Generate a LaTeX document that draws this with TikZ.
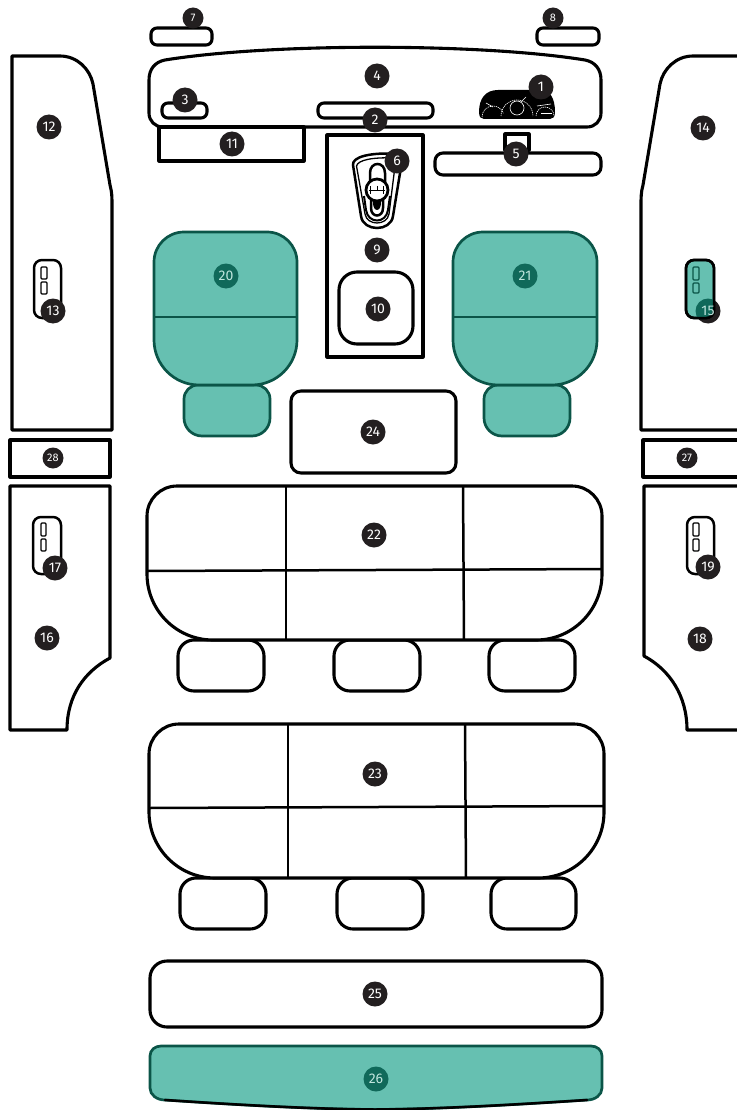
\documentclass[tikz,border=0pt]{standalone}
\usepackage{fontspec}
\setmainfont{Fira Sans}
\usetikzlibrary{scopes}
\definecolor{seatFill}{HTML}{66C0B1}
\definecolor{seatLine}{HTML}{0B5548}
\definecolor{badgeTeal}{HTML}{10695A}
\definecolor{badgeDark}{HTML}{231F20}
\definecolor{badgeText}{HTML}{BFE5DD}
\tikzset{
	part/.style={draw=black,line width=3.1pt,fill=white,line join=round},
	thin part/.style={draw=black,line width=2.5pt},
	seat/.style={draw=seatLine,line width=2.7pt,fill=seatFill,line join=round},
	badge/.style={shape=circle,fill=badgeDark,text=white,inner sep=0pt,minimum size=25pt,font=\fontsize{14}{14}\selectfont},
	small badge/.style={badge,minimum size=21pt,font=\fontsize{11}{11}\selectfont},
	teal badge/.style={badge,fill=badgeTeal,text=badgeText},
	gauge/.style={draw=white,line width=0.6pt}
}
% style, left, top, right, bottom, top radius, bottom radius
\newcommand{\cushion}[7]{\draw[#1] (#2,#3+#6) .. controls (#2,#3+0.448*#6) and (#2+0.448*#6,#3) .. (#2+#6,#3) -- (#4-#6,#3) .. controls (#4-0.448*#6,#3) and (#4,#3+0.448*#6) .. (#4,#3+#6) -- (#4,#5-#7) .. controls (#4,#5-0.448*#7) and (#4-0.448*#7,#5) .. (#4-#7,#5) -- (#2+#7,#5) .. controls (#2+0.448*#7,#5) and (#2,#5-0.448*#7) .. (#2,#5-#7) -- cycle;}
\begin{document}
\begin{tikzpicture}[x=1pt,y=-1pt]
	\useasboundingbox (0,0) rectangle (736,1110);
	%% Dashboard
	\draw[part] (149,113) -- (149,80) .. controls (149,69) and (155,62) .. (165,60) .. controls (270,43) and (480,43) .. (585,60) .. controls (595,62) and (601,69) .. (601,80) -- (601,113) .. controls (601,121) and (595,127) .. (587,127) -- (163,127) .. controls (155,127) and (149,121) .. (149,113) -- cycle;
	\draw[part,rounded corners=6pt] (151,28) rectangle (212,45);
	\draw[part,rounded corners=6pt] (537,28) rectangle (599,45);
	\draw[part,rounded corners=6pt] (162,103) rectangle (207,118);
	\draw[part,rounded corners=6pt] (318,103) rectangle (433,118);
	\draw[part] (159,127) rectangle (304,161);
	\draw[part] (505,134) rectangle (529,150);
	\draw[part,rounded corners=8pt] (435,153) rectangle (601,175);
	%% Instrument cluster
	\fill[black] (479,112) .. controls (479,98) and (486,90) .. (498,90) -- (540,90) .. controls (550,90) and (555,98) .. (555,112) .. controls (555,117) and (553,119) .. (550,119) -- (484,119) .. controls (481,119) and (479,117) .. (479,112) -- cycle;
	\draw[gauge,dash pattern=on 1.2pt off 0.8pt] (482,117) arc[start angle=180,end angle=340,radius=11];
	\draw[gauge] (493,107) -- (486,103);
	\draw[gauge,dash pattern=on 1.2pt off 0.8pt] (501,116) arc[start angle=180,end angle=360,radius=16];
	\draw[gauge] (517,108) circle (7);
	\draw[gauge] (521,102) -- (526,97);
	\draw[gauge,dash pattern=on 1.2pt off 0.8pt] (536,116) arc[start angle=180,end angle=360,radius=9];
	\draw[gauge] (537,106) -- (551,104);
	\draw[gauge] (541,113) -- (552,113);
	%% Console
	\draw[part] (327,135) rectangle (423,357);
	\draw[part,rounded corners=18pt] (339,272) rectangle (413,344);
	% Gear lever
	\draw[thin part,fill=white] (353,165) .. controls (352,157) and (370,152) .. (398,154) .. controls (402,156) and (402,160) .. (401,167) -- (393,216) .. controls (391,232) and (363,232) .. (361,216) -- cycle;
	\draw[black,line width=1.3pt] (356.5,166) .. controls (358,160) and (372,157) .. (396,158) -- (389,214) .. controls (387,226) and (367,226) .. (365,214) -- cycle;
	\draw[thin part,fill=white] (370,190) -- (370,173) .. controls (370,161) and (385,161) .. (385,173) -- (385,190);
	\draw[black,line width=2pt] (364,196) -- (366,210) .. controls (368,224) and (386,224) .. (388,210) -- (390,196);
	\draw[thin part,fill=white] (371,195) -- (371,208) .. controls (371,218) and (383,218) .. (383,208) -- (383,195);
	\fill[black] (377,203) ellipse (4 and 7);
	\path (377,190) node(gearKnob)[draw=black,line width=2.8pt,fill=white,shape=circle,inner sep=0pt,minimum size=22pt] {};
	\draw[black,line width=0.9pt] (369,190) -- (385,190) (370.5,186) -- (370.5,194) (377,186) -- (377,190) (383,186) -- (383,194);
	%% Doors
	\draw[part] (12,430) -- (12,56) -- (60,56) .. controls (77,56) and (90,69) .. (93,84) -- (110,185) .. controls (112,192) and (112,198) .. (112,205) -- (112,430) -- cycle;
	\draw[part] (742,430) -- (641,430) -- (641,205) .. controls (641,198) and (641,192) .. (643,185) -- (660,84) .. controls (663,69) and (676,56) .. (693,56) -- (742,56);
	\draw[part] (10,440) rectangle (110,477);
	\draw[part] (643,440) rectangle (742,477);
	\draw[part] (10,730) -- (10,486) -- (110,486) -- (110,658) .. controls (84,672) and (67,696) .. (67,730) -- cycle;
	\draw[part] (742,486) -- (644,486) -- (644,656) .. controls (670,670) and (687,696) .. (687,730) -- (742,730);
	% Window switches
	\draw[thin part,fill=white,rounded corners=8pt] (34,260) rectangle (61,318);
	\draw[black,line width=1.2pt,rounded corners=1pt] (41,267) rectangle (47,279) (41,282) rectangle (47,294);
	\draw[thin part,fill=white,rounded corners=8pt] (33,517) rectangle (61,574);
	\draw[black,line width=1.2pt,rounded corners=1pt] (41,523) rectangle (46,536) (41,539) rectangle (46,551);
	\draw[thin part,fill=white,rounded corners=8pt] (687,517) rectangle (714,574);
	\draw[black,line width=1.2pt,rounded corners=1pt] (693,523) rectangle (699,536) (693,539) rectangle (699,551);
	%% Front seats
	\cushion{seat}{184}{385}{270}{436}{14}{18}
	\cushion{seat}{154}{232}{297}{385}{30}{45}
	\draw[seat] (154,317) -- (297,317);
	\cushion{seat}{484}{385}{570}{436}{14}{18}
	\cushion{seat}{453}{232}{597}{385}{30}{45}
	\draw[seat] (453,317) -- (597,317);
	\draw[part,rounded corners=10pt] (291,391) rectangle (456,473);
	%% Second row
	\cushion{part}{178}{640}{264}{691}{16}{16}
	\cushion{part}{334}{640}{420}{691}{16}{16}
	\cushion{part}{489}{640}{575}{691}{16}{16}
	\cushion{part}{147}{486}{602}{640}{30}{66}
	\draw[thin part] (147,571) -- (602,569);
	\draw[thin part] (286,486) -- (286,640);
	\draw[thin part] (463,486) -- (464,640);
	%% Third row
	\cushion{part}{180}{878}{266}{929}{16}{16}
	\cushion{part}{337}{878}{423}{929}{16}{16}
	\cushion{part}{491}{878}{576}{929}{16}{16}
	\cushion{part}{149}{724}{604}{878}{30}{66}
	\draw[thin part] (149,808) -- (604,806);
	\draw[thin part] (288,724) -- (288,878);
	\draw[thin part] (465,724) -- (466,878);
	%% Boot
	\draw[part,rounded corners=17pt] (150,961) rectangle (602,1027);
	\draw[seat] (150,1088) -- (150,1056) .. controls (150,1050) and (155,1046) .. (161,1046) -- (591,1046) .. controls (597,1046) and (602,1050) .. (602,1056) -- (602,1088) .. controls (602,1095) and (595,1100) .. (587,1100) .. controls (510,1105) and (440,1109) .. (375,1109.5) .. controls (310,1109) and (240,1105) .. (165,1100) .. controls (157,1100) and (150,1095) .. (150,1088) -- cycle;
	\draw[black,line width=2.5pt,line cap=round] (165,1100) .. controls (240,1105) and (310,1109) .. (375,1109.5) .. controls (440,1109) and (510,1105) .. (587,1100);
	%% Numbered badges
	\path (541,87) node(badgeOne)[badge] {1};
	\path (375,120) node(badgeTwo)[badge] {2};
	\path (185,100) node(badgeThree)[badge] {3};
	\path (377,76) node(badgeFour)[badge] {4};
	\path (516,154) node(badgeFive)[badge] {5};
	\path (397,161) node(badgeSix)[badge] {6};
	\path (193,18) node(badgeSeven)[small badge] {7};
	\path (553,18) node(badgeEight)[small badge] {8};
	\path (377,250) node(badgeNine)[badge] {9};
	\path (378,309) node(badgeTen)[badge] {10};
	\path (232,144) node(badgeEleven)[badge] {11};
	\path (49,127) node(badgeTwelve)[badge] {12};
	\path (53,311) node(badgeThirteen)[badge] {13};
	\path (703,128) node(badgeFourteen)[badge] {14};
	\path (47,638) node(badgeSixteen)[badge] {16};
	\path (55,568) node(badgeSeventeen)[badge] {17};
	\path (700,639) node(badgeEighteen)[badge] {18};
	\path (708,567) node(badgeNineteen)[badge] {19};
	\path (226,276) node(badgeTwenty)[teal badge] {20};
	\path (525,276) node(badgeTwentyOne)[teal badge] {21};
	\path (374,535) node(badgeTwentyTwo)[badge] {22};
	\path (375,774) node(badgeTwentyThree)[badge] {23};
	\path (373,432) node(badgeTwentyFour)[badge] {24};
	\path (375,994) node(badgeTwentyFive)[badge] {25};
	\path (376,1079) node(badgeTwentySix)[teal badge] {26};
	\path (687,458) node(badgeTwentySeven)[small badge] {27};
	\path (53,458) node(badgeTwentyEight)[small badge] {28};
	% Teal switch sits over its badge
	\path (708,311) node(badgeFifteen)[badge] {};
	\draw[seat,draw=black,rounded corners=8pt] (686,260) rectangle (714,318);
	\begin{scope}
		\clip[rounded corners=8pt] (686,260) rectangle (714,318);
		\fill[badgeTeal] (badgeFifteen) circle (12.5);
	\end{scope}
	\draw[black,line width=2.4pt,rounded corners=8pt] (686,260) rectangle (714,318);
	\draw[seatLine,line width=1.2pt,rounded corners=1pt] (693,267) rectangle (699,280) (693,283) rectangle (699,293);
	\path (708,311) node(labelFifteen)[text=badgeText,font=\fontsize{14}{14}\selectfont] {15};
\end{tikzpicture}
\end{document}
